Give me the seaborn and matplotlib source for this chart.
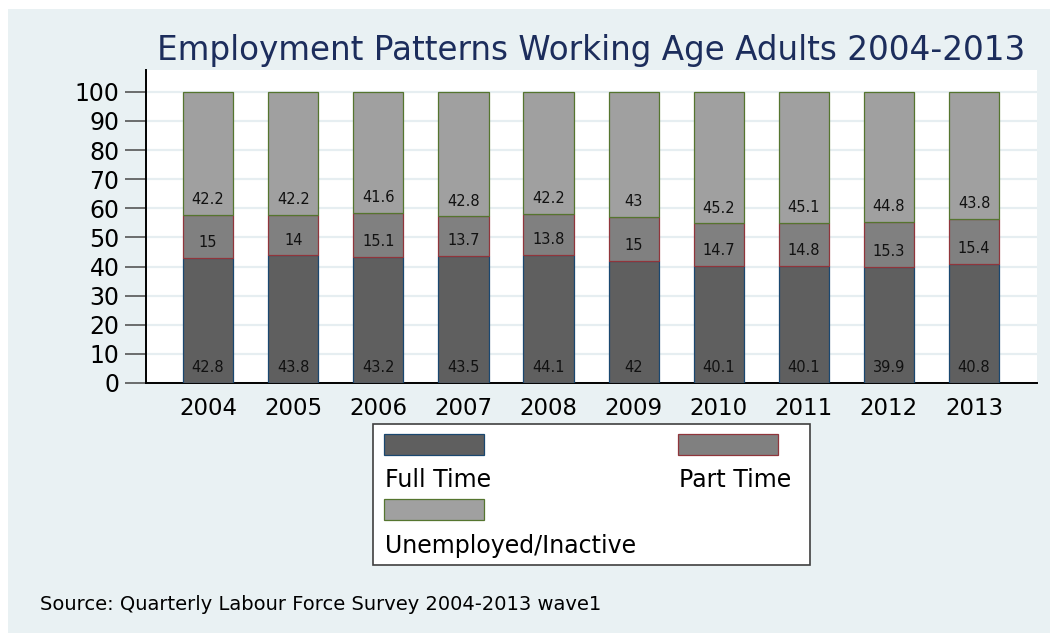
import numpy as np
import pandas as pd
import matplotlib
matplotlib.use("Agg")
import matplotlib.pyplot as plt
from matplotlib.patches import Rectangle
import seaborn as sns

# Employment shares (%) of working age adults, by year
years = ["2004", "2005", "2006", "2007", "2008", "2009", "2010", "2011", "2012", "2013"]
full_time = [42.8, 43.8, 43.2, 43.5, 44.1, 42.0, 40.1, 40.1, 39.9, 40.8]
part_time = [15.0, 14.0, 15.1, 13.7, 13.8, 15.0, 14.7, 14.8, 15.3, 15.4]
unemployed_inactive = [42.2, 42.2, 41.6, 42.8, 42.2, 43.0, 45.2, 45.1, 44.8, 43.8]

series_names = ["Full Time", "Part Time", "Unemployed/Inactive"]
series_values = [full_time, part_time, unemployed_inactive]
fill_colors = ["#5f5f5f", "#808080", "#a0a0a0"]
edge_colors = ["#1a476f", "#90353b", "#55752f"]

title = "Employment Patterns Working Age Adults 2004-2013"
source_note = "Source: Quarterly Labour Force Survey 2004-2013 wave1"

sns.set_theme(style="white")
plt.rcParams["font.family"] = ["DejaVu Sans"]

bg = "#e9f1f3"
grid_col = "#e6eef1"

fig = plt.figure(figsize=(10.5, 6.33), dpi=100)
fig.patch.set_facecolor("white")
# light graph region behind everything
fig.add_artist(Rectangle((8 / 1050, 0), 1 - 8 / 1050, 1 - 9 / 633,
                         transform=fig.transFigure, facecolor=bg,
                         edgecolor="none", zorder=-10))

ax = fig.add_axes([146 / 1050, 1 - 383 / 633, (1037 - 146) / 1050, (383 - 70) / 633])
ax.set_facecolor("white")

df = pd.DataFrame({"year": years})
bottom = np.zeros(len(years))
for name, vals, fc, ec in zip(series_names, series_values, fill_colors, edge_colors):
    df[name] = vals
    sns.barplot(data=df, x="year", y=name, order=years, bottom=bottom,
                color=fc, saturation=1, width=0.59, edgecolor=ec,
                linewidth=0.9, ax=ax, zorder=3)
    for i, v in enumerate(vals):
        ax.text(i, bottom[i] + 5.3, f"{v:g}", ha="center", va="center",
                fontsize=10.5, color="#111111", zorder=5)
    bottom = bottom + np.array(vals)

ax.set_xlim(-0.73, 9.74)
ax.set_ylim(0, 107.5)
ax.set_yticks(np.arange(0, 101, 10))
ax.set_xlabel("")
ax.set_ylabel("")
ax.yaxis.grid(True, color=grid_col, linewidth=1.6, zorder=0)
ax.xaxis.grid(False)
ax.set_axisbelow(True)

for s in ["top", "right"]:
    ax.spines[s].set_visible(False)
for s in ["left", "bottom"]:
    ax.spines[s].set_color("black")
    ax.spines[s].set_linewidth(1.4)

ax.tick_params(axis="y", which="major", length=15, width=1.2, color="#555555",
               pad=4, labelsize=17, labelcolor="black", left=True)
ax.tick_params(axis="x", which="major", length=0, pad=10, labelsize=16.5,
               labelcolor="black")

# title centred over the plot region
fig.text((146 + 1037) / 2 / 1050, 1 - 60 / 633, title, ha="center",
         va="baseline", fontsize=23.5, color="#1c2d5c")

# legend box with swatches above their labels
fig.add_artist(Rectangle((373 / 1050, 1 - 565 / 633), (810 - 373) / 1050,
                         (565 - 424) / 633, transform=fig.transFigure,
                         facecolor="white", edgecolor="#404040",
                         linewidth=1.2, zorder=2))
legend_slots = [(384, 434, 480), (678, 434, 480), (384, 499, 546)]
for (x0, y0, ty), name, fc, ec in zip(legend_slots, series_names, fill_colors, edge_colors):
    fig.add_artist(Rectangle((x0 / 1050, 1 - (y0 + 21) / 633), 100 / 1050, 21 / 633,
                             transform=fig.transFigure, facecolor=fc,
                             edgecolor=ec, linewidth=0.9, zorder=3))
    fig.text((x0 + 1) / 1050, 1 - ty / 633, name, ha="left", va="center",
             fontsize=17, color="black", zorder=4)

fig.text(40 / 1050, 1 - 604 / 633, source_note, ha="left", va="center",
         fontsize=14, color="black")

fig.savefig("out.png", dpi=100, facecolor=fig.get_facecolor())
